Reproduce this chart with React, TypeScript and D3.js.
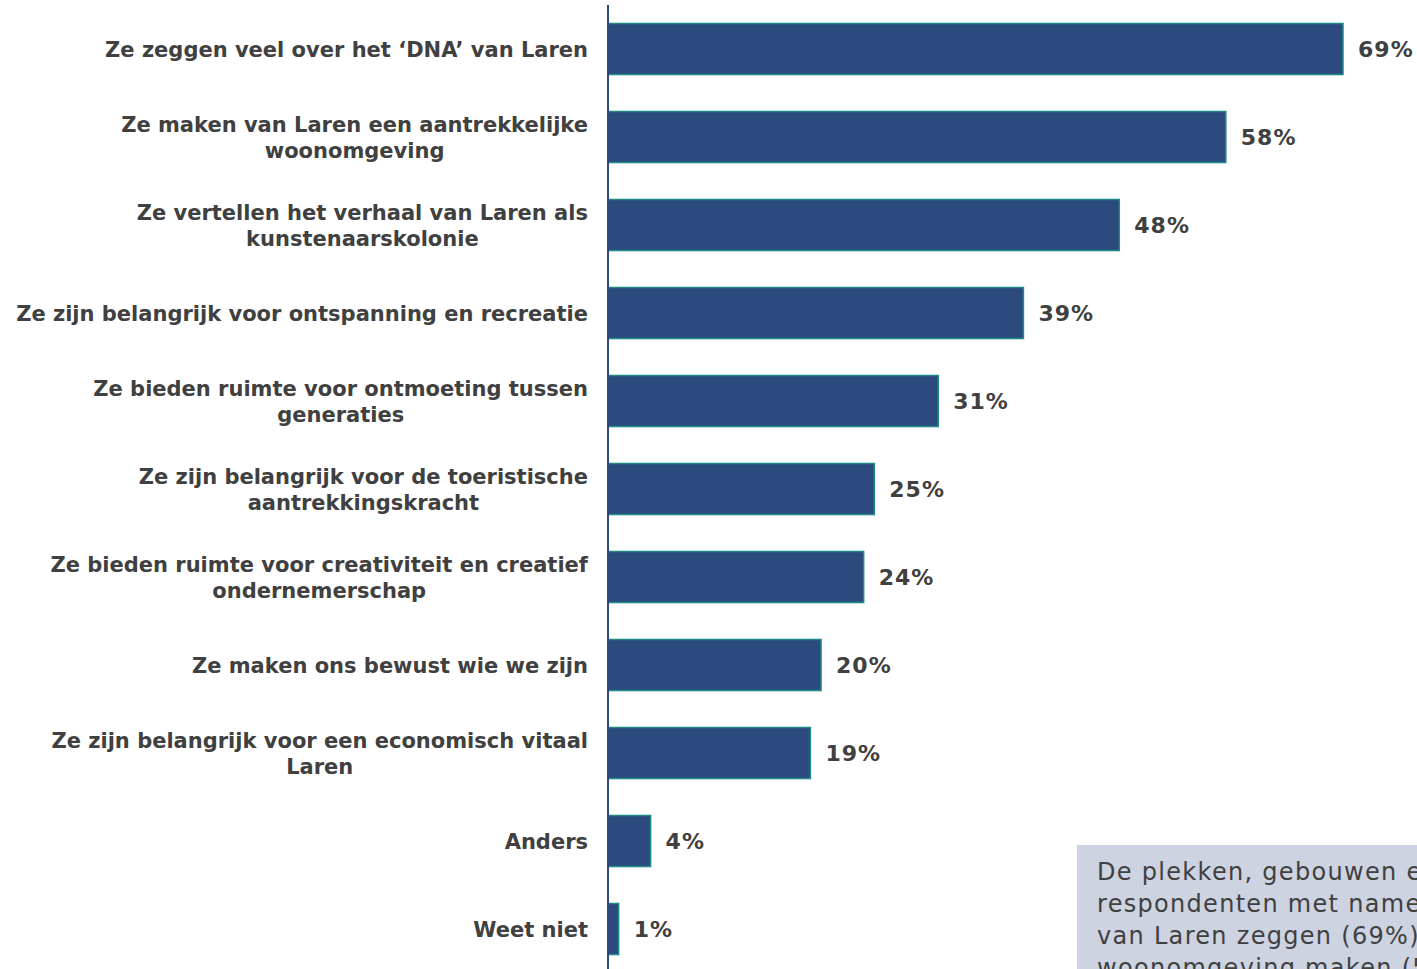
import React from "react";
import { scaleBand, scaleLinear } from "d3";

const categories = [
  ["Ze zeggen veel over het ‘DNA’ van Laren"],
  ["Ze maken van Laren een aantrekkelijke", "woonomgeving"],
  ["Ze vertellen het verhaal van Laren als", "kunstenaarskolonie"],
  ["Ze zijn belangrijk voor ontspanning en recreatie"],
  ["Ze bieden ruimte voor ontmoeting tussen", "generaties"],
  ["Ze zijn belangrijk voor de toeristische", "aantrekkingskracht"],
  ["Ze bieden ruimte voor creativiteit en creatief", "ondernemerschap"],
  ["Ze maken ons bewust wie we zijn"],
  ["Ze zijn belangrijk voor een economisch vitaal", "Laren"],
  ["Anders"],
  ["Weet niet"],
];
const values = [69, 58, 48, 39, 31, 25, 24, 20, 19, 4, 1];

const noteLines = [
  "De plekken, gebouwen en objecten zijn volgens de",
  "respondenten met name belangrijk omdat ze veel over het ‘DNA’",
  "van Laren zeggen (69%) en dat ze van Laren een aantrekkelijke",
  "woonomgeving maken (58%).",
];

const FONT = "DejaVu Sans, Verdana, sans-serif";
const LABEL_SIZE = 21;

let canvas: HTMLCanvasElement | null = null;
function measure(text: string) {
  if (!canvas) canvas = document.createElement("canvas");
  const ctx = canvas.getContext("2d")!;
  ctx.font = `bold ${LABEL_SIZE}px ${FONT}`;
  return ctx.measureText(text).width;
}

export default function App() {
  const width = 1417;
  const height = 969;
  const axisX = 608;
  const labelRight = 588;

  const keys = categories.map((c) => c.join(" "));
  const y = scaleBand<string>().domain(keys).range([5, 973]).paddingInner(0.42).paddingOuter(0.21);
  const x = scaleLinear().domain([0, 69]).range([axisX, 1343]);

  return (
    <svg
      width={width}
      height={height}
      style={{ position: "fixed", left: 0, top: 0, background: "#fff" }}
      fontFamily={FONT}
    >
      {keys.map((k, i) => {
        const yc = y(k)! + y.bandwidth() / 2;
        const lines = categories[i];
        const w1 = measure(lines[0]);
        const cx = labelRight - w1 / 2;
        return (
          <g key={k}>
            <rect
              x={x(0)}
              y={y(k)}
              width={x(values[i]) - x(0)}
              height={y.bandwidth()}
              fill="#2c4a7e"
              stroke="#1f8a8a"
              strokeWidth={1.5}
            />
            <text
              x={x(values[i]) + 15}
              y={yc}
              dy="0.36em"
              fontSize={22}
              fontWeight="bold"
              letterSpacing={1}
              fill="#404040"
            >
              {values[i]}%
            </text>
            {lines.map((l, j) => (
              <text
                key={j}
                x={lines.length > 1 ? cx : labelRight}
                y={yc + (j - (lines.length - 1) / 2) * 26}
                dy="0.36em"
                textAnchor={lines.length > 1 ? "middle" : "end"}
                fontSize={LABEL_SIZE}
                fontWeight="bold"
                fill="#404040"
              >
                {l}
              </text>
            ))}
          </g>
        );
      })}
      <line x1={axisX} x2={axisX} y1={5} y2={height} stroke="#2c4a7e" strokeWidth={2} />
      <rect x={1077} y={845} width={400} height={200} fill="#cdd3e1" />
      {noteLines.map((l, i) => (
        <text key={i} x={1097} y={880 + i * 32} fontSize={24} letterSpacing={1.3} fill="#404040">
          {l}
        </text>
      ))}
    </svg>
  );
}
